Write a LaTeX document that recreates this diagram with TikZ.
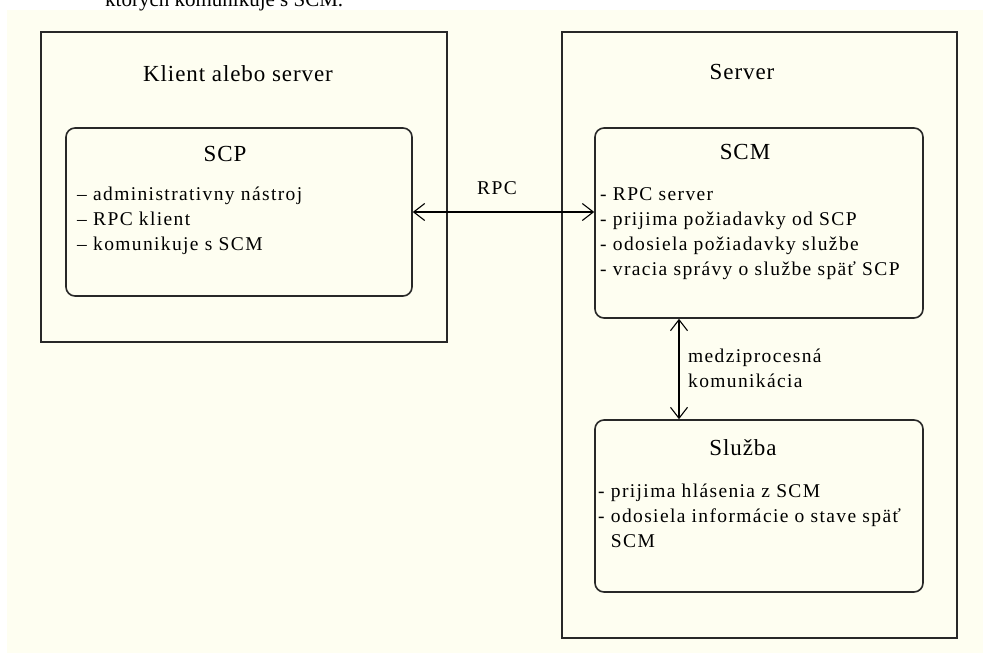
\documentclass[tikz,border=0pt]{standalone}
\usepackage{fontspec}
\setmainfont{Liberation Serif}
\newfontfamily\textpis[LetterSpace=7]{Liberation Serif}
\newfontfamily\nadpispis[LetterSpace=4]{Liberation Serif}
\usepackage{tikz}
\usetikzlibrary{arrows.meta, positioning}
\definecolor{papier}{RGB}{254,254,241}
\definecolor{ciara}{RGB}{40,40,40}

\begin{document}
\begin{tikzpicture}[x=1pt, y=-1pt, >={Straight Barb[length=11pt, width=17pt]},
    ramec/.style={draw=ciara, line width=1.6pt, inner sep=0pt},
    blok/.style={ramec, rounded corners=9pt},
    nadpis/.style={font=\nadpispis\fontsize{23}{28}\selectfont, anchor=base, inner sep=0pt},
    popis/.style={font=\textpis\fontsize{19.5}{25}\selectfont, anchor=base west, align=left, inner sep=0pt}]
        \useasboundingbox (0,0) rectangle (983,653);
        % podklad a orezana veta nad obrazkom
        \fill[papier] (7,10) rectangle (983,653);
        \node[anchor=base west, inner sep=0pt, font=\fontsize{21}{25}\selectfont] (veta) at (105,6.5) {ktorých komunikuje s SCM.};

        % klient alebo server (popis je ukotveny na poslednom riadku)
        \node[ramec, minimum width=406pt, minimum height=310pt] (klient) at (244,187) {};
        \node[nadpis] (tklient) at (238,81) {Klient alebo server};
        \node[blok, minimum width=346pt, minimum height=168pt] (scp) at (239,212) {};
        \node[nadpis] (tscp) at (225,161) {SCP};
        \node[popis] (pscp) at (77,250) {– administrativny nástroj\\– RPC klient\\– komunikuje s SCM};

        % server
        \node[ramec, minimum width=395pt, minimum height=606pt] (server) at (759.5,335) {};
        \node[nadpis] (tserver) at (742,79) {Server};
        \node[blok, minimum width=328pt, minimum height=190pt] (scm) at (759,223) {};
        \node[nadpis] (tscm) at (745,159) {SCM};
        \node[popis] (pscm) at (600,275) {- RPC server\\- prijima požiadavky od SCP\\- odosiela požiadavky službe\\- vracia správy o službe späť SCP};
        \node[blok, minimum width=328pt, minimum height=172pt] (sluzba) at (759,506) {};
        \node[nadpis] (tsluzba) at (743,455) {Služba};
        \node[popis] (psluzba) at (598,547) {- prijima hlásenia z SCM\\- odosiela informácie o stave späť\\\hphantom{- }SCM};

        % spojenia
        \draw[<->, line width=1.1pt] (scp.east) -- (scp.east -| scm.west);
        \node[popis, anchor=base] (rpc) at (497,194) {RPC};
        \draw[<->, line width=1.1pt] ([xshift=-80pt]scm.south) -- ([xshift=-80pt]sluzba.north);
        \node[popis] (ipc) at (688,387) {medziprocesná\\komunikácia};
    \end{tikzpicture}
\end{document}
